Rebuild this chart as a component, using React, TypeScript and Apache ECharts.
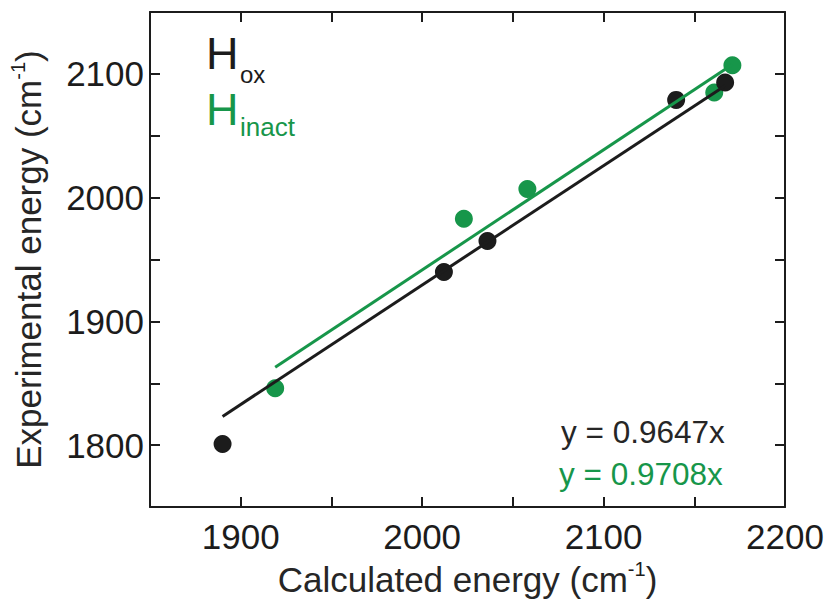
import React, { useEffect, useRef } from "react";
import * as echarts from "echarts";

// Data
const hoxCalc = [1890, 2012, 2036, 2140, 2167];
const hoxExp = [1801, 1940, 1965, 2079, 2093];
const inactCalc = [1919, 2023, 2058, 2161, 2171];
const inactExp = [1846, 1983, 2007, 2085, 2107];
const slopes = { hox: 0.9647, inact: 0.9708 };
const xTicks = { min: 1850, max: 2200, interval: 50, labelEvery: 100 };
const yTicks = { min: 1750, max: 2150, interval: 50, labelEvery: 100 };

const BLACK = "#1c1c1c";
const GREEN = "#17964a";
const FONT = "Liberation Sans, Arial, sans-serif";

function fitLine(xs: number[], slope: number) {
  const lo = Math.min(...xs);
  const hi = Math.max(...xs);
  return [
    [lo, slope * lo],
    [hi, slope * hi],
  ];
}

export default function App() {
  const ref = useRef<HTMLDivElement>(null);
  useEffect(() => {
    if (!ref.current) return;
    const chart = echarts.init(ref.current, undefined, { renderer: "svg" });
    const axisLine = { show: true, onZero: false, lineStyle: { color: BLACK, width: 2 } };
    const axisTick = { show: true, inside: true, length: 10, lineStyle: { color: BLACK, width: 2 } };
    const fmt = (every: number) => (v: number) => (v % every === 0 ? String(v) : "");
    const titleRich = {
      sup: { fontSize: 20, fontFamily: FONT, color: BLACK, verticalAlign: "top" as const, lineHeight: 20 },
    };
    chart.setOption({
      animation: false,
      backgroundColor: "#ffffff",
      grid: { left: 149, right: 46, top: 12, bottom: 92, containLabel: false },
      xAxis: [
        {
          type: "value",
          min: xTicks.min,
          max: xTicks.max,
          interval: xTicks.interval,
          position: "bottom",
          axisLine,
          axisTick,
          splitLine: { show: false },
          axisLabel: {
            formatter: fmt(xTicks.labelEvery),
            fontSize: 35,
            fontFamily: FONT,
            color: BLACK,
            margin: 12,
          },
          name: "Calculated energy (cm{sup|-1})",
          nameLocation: "middle",
          nameGap: 48,
          nameTextStyle: { fontSize: 35, fontFamily: FONT, color: "#262626", lineHeight: 40, rich: titleRich },
        },
        {
          type: "value",
          min: xTicks.min,
          max: xTicks.max,
          interval: xTicks.interval,
          position: "top",
          axisLine,
          axisTick,
          splitLine: { show: false },
          axisLabel: { show: false },
        },
      ],
      yAxis: [
        {
          type: "value",
          min: yTicks.min,
          max: yTicks.max,
          interval: yTicks.interval,
          position: "left",
          axisLine,
          axisTick,
          splitLine: { show: false },
          axisLabel: {
            formatter: fmt(yTicks.labelEvery),
            fontSize: 35,
            fontFamily: FONT,
            color: BLACK,
            margin: 6,
          },
          name: "Experimental energy (cm{sup|-1})",
          nameLocation: "middle",
          nameRotate: 90,
          nameGap: 102,
          nameTextStyle: { fontSize: 35, fontFamily: FONT, color: "#262626", lineHeight: 40, rich: titleRich },
        },
        {
          type: "value",
          min: yTicks.min,
          max: yTicks.max,
          interval: yTicks.interval,
          position: "right",
          axisLine,
          axisTick,
          splitLine: { show: false },
          axisLabel: { show: false },
        },
      ],
      series: [
        {
          name: "Hinact",
          type: "scatter",
          data: inactCalc.map((x, i) => [x, inactExp[i]]),
          symbolSize: 18,
          itemStyle: { color: GREEN, opacity: 1 },
          z: 2,
        },
        {
          name: "Hox",
          type: "scatter",
          data: hoxCalc.map((x, i) => [x, hoxExp[i]]),
          symbolSize: 18,
          itemStyle: { color: BLACK, opacity: 1 },
          z: 2,
        },
        {
          name: "Hox fit",
          type: "line",
          data: fitLine(hoxCalc, slopes.hox),
          showSymbol: false,
          symbol: "none",
          lineStyle: { color: BLACK, width: 3 },
          z: 3,
        },
        {
          name: "Hinact fit",
          type: "line",
          data: fitLine(inactCalc, slopes.inact),
          showSymbol: false,
          symbol: "none",
          lineStyle: { color: GREEN, width: 3 },
          z: 4,
        },
      ],
      graphic: [
        { type: "text", left: 206, top: 31, style: { text: "H", fontSize: 45, fontFamily: FONT, fill: BLACK } },
        { type: "text", left: 240, top: 62, style: { text: "ox", fontSize: 24, fontFamily: FONT, fill: BLACK } },
        { type: "text", left: 206, top: 87, style: { text: "H", fontSize: 45, fontFamily: FONT, fill: GREEN } },
        { type: "text", left: 240, top: 114, style: { text: "inact", fontSize: 26, fontFamily: FONT, fill: GREEN } },
        { type: "text", left: 561, top: 416, style: { text: "y = 0.9647x", fontSize: 31.5, fontFamily: FONT, fill: "#262626" } },
        { type: "text", left: 559, top: 458, style: { text: "y = 0.9708x", fontSize: 31.5, fontFamily: FONT, fill: GREEN } },
      ],
    });
    return () => chart.dispose();
  }, []);
  return (
    <div
      ref={ref}
      style={{ position: "absolute", left: 0, top: 0, width: 831, height: 604, background: "#fff" }}
    />
  );
}
